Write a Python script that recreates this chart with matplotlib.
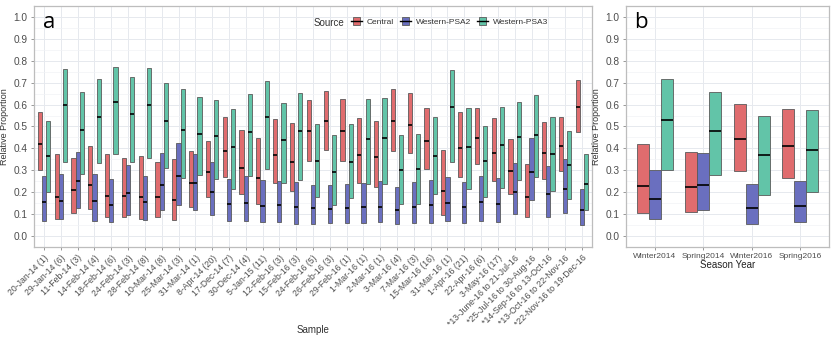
#import libraries
import numpy as np
import matplotlib
matplotlib.use("Agg")
import matplotlib.pyplot as plt
from matplotlib.patches import Rectangle
from matplotlib.lines import Line2D
from matplotlib.legend_handler import HandlerBase

plt.rcParams['font.family'] = ['Liberation Sans', 'DejaVu Sans']

#data for panel a
samples = ["20-Jan-14 (1)", "29-Jan-14 (6)", "11-Feb-14 (3)", "14-Feb-14 (4)", "18-Feb-14 (6)",
           "24-Feb-14 (3)", "28-Feb-14 (8)", "10-Mar-14 (8)", "25-Mar-14 (3)", "31-Mar-14 (1)",
           "8-Apr-14 (20)", "17-Dec-14 (7)", "30-Dec-14 (4)", "5-Jan-15 (11)", "12-Feb-16 (3)",
           "15-Feb-16 (3)", "24-Feb-16 (5)", "26-Feb-16 (3)", "29-Feb-16 (1)", "1-Mar-16 (1)",
           "2-Mar-16 (1)", "3-Mar-16 (4)", "7-Mar-16 (3)", "15-Mar-16 (16)", "31-Mar-16 (1)",
           "1-Apr-16 (21)", "22-Apr-16 (6)", "3-May-16 (17)", "*13-June-16 to 21-Jul-16",
           "*25-Jul-16 to 30-Aug-16", "*14-Sep-16 to 13-Oct-16", "*13-Oct-16 to 22-Nov-16",
           "*22-Nov-16 to 19-Dec-16"]

central_hi = [0.565, 0.373, 0.357, 0.41, 0.375, 0.358, 0.366, 0.337, 0.352, 0.386, 0.436, 0.544, 0.482,
              0.448, 0.533, 0.518, 0.62, 0.66, 0.624, 0.539, 0.527, 0.67, 0.652, 0.586, 0.391, 0.564,
              0.586, 0.539, 0.444, 0.329, 0.52, 0.542, 0.711]
central_mid = [0.42, 0.18, 0.21, 0.233, 0.183, 0.183, 0.178, 0.18, 0.164, 0.242, 0.294, 0.39, 0.31,
               0.265, 0.37, 0.338, 0.479, 0.524, 0.479, 0.368, 0.359, 0.527, 0.506, 0.432, 0.205, 0.402,
               0.448, 0.38, 0.298, 0.179, 0.377, 0.409, 0.589]
central_lo = [0.30, 0.08, 0.105, 0.125, 0.085, 0.085, 0.08, 0.085, 0.071, 0.132, 0.178, 0.27, 0.19,
              0.147, 0.244, 0.206, 0.341, 0.394, 0.344, 0.242, 0.224, 0.388, 0.377, 0.305, 0.094, 0.271,
              0.33, 0.25, 0.191, 0.086, 0.261, 0.295, 0.474]

psa2_hi = [0.275, 0.285, 0.385, 0.285, 0.262, 0.326, 0.275, 0.377, 0.424, 0.373, 0.336, 0.262, 0.274,
           0.256, 0.252, 0.245, 0.233, 0.232, 0.239, 0.244, 0.25, 0.226, 0.248, 0.255, 0.268, 0.248,
           0.276, 0.265, 0.333, 0.448, 0.321, 0.352, 0.215]
psa2_mid = [0.155, 0.16, 0.25, 0.158, 0.142, 0.195, 0.155, 0.232, 0.273, 0.24, 0.20, 0.147, 0.153,
            0.138, 0.14, 0.133, 0.129, 0.124, 0.127, 0.133, 0.133, 0.121, 0.133, 0.141, 0.152, 0.133,
            0.156, 0.147, 0.20, 0.294, 0.191, 0.214, 0.117]
psa2_lo = [0.07, 0.08, 0.128, 0.07, 0.063, 0.095, 0.075, 0.118, 0.142, 0.12, 0.095, 0.07, 0.07,
           0.064, 0.064, 0.056, 0.056, 0.059, 0.059, 0.061, 0.065, 0.053, 0.061, 0.061, 0.07, 0.061,
           0.07, 0.065, 0.10, 0.165, 0.089, 0.105, 0.052]

psa3_hi = [0.525, 0.762, 0.657, 0.718, 0.771, 0.727, 0.765, 0.70, 0.671, 0.635, 0.62, 0.578, 0.648,
           0.707, 0.608, 0.655, 0.512, 0.459, 0.51, 0.624, 0.632, 0.459, 0.464, 0.544, 0.756, 0.586,
           0.503, 0.589, 0.612, 0.644, 0.542, 0.479, 0.376]
psa3_mid = [0.365, 0.60, 0.485, 0.542, 0.613, 0.558, 0.60, 0.525, 0.483, 0.465, 0.455, 0.405, 0.477,
            0.542, 0.438, 0.479, 0.344, 0.291, 0.338, 0.442, 0.448, 0.302, 0.306, 0.367, 0.591, 0.405,
            0.344, 0.414, 0.45, 0.462, 0.374, 0.324, 0.239]
psa3_lo = [0.20, 0.34, 0.285, 0.332, 0.374, 0.34, 0.355, 0.31, 0.265, 0.28, 0.262, 0.213, 0.276,
           0.306, 0.242, 0.256, 0.176, 0.141, 0.173, 0.236, 0.238, 0.147, 0.147, 0.191, 0.338, 0.214,
           0.179, 0.22, 0.256, 0.271, 0.205, 0.168, 0.117]

#data for panel b
seasons = ["Winter2014", "Spring2014", "Winter2016", "Spring2016"]
season_central_hi = [0.42, 0.383, 0.602, 0.579]
season_central_mid = [0.229, 0.224, 0.442, 0.412]
season_central_lo = [0.106, 0.109, 0.295, 0.267]
season_psa2_hi = [0.30, 0.379, 0.239, 0.253]
season_psa2_mid = [0.17, 0.235, 0.127, 0.136]
season_psa2_lo = [0.077, 0.117, 0.056, 0.062]
season_psa3_hi = [0.715, 0.658, 0.55, 0.577]
season_psa3_mid = [0.53, 0.48, 0.368, 0.391]
season_psa3_lo = [0.303, 0.277, 0.186, 0.20]

sources = ["Central", "Western-PSA2", "Western-PSA3"]
colors = ["#E06C6E", "#6A6FBF", "#62C4A8"]
text_col = "#4D4D4D"
width = 0.25


def crossbars(ax, groups):
    #groups: list of (lo, mid, hi) per source
    for k, (lo, mid, hi) in enumerate(groups):
        x = np.arange(len(lo)) + (k - 1) * width
        lo = np.array(lo)
        hi = np.array(hi)
        ax.bar(x, hi - lo, bottom=lo, width=width, color=colors[k],
               edgecolor="#5a5a5a", linewidth=0.6, zorder=3)
        ax.hlines(mid, x - width / 2, x + width / 2, color="black", linewidth=1.2, zorder=4)


def style(ax, labels, rot):
    ax.set_ylim(-0.05, 1.05)
    ax.set_xlim(-0.6, len(labels) - 0.4)
    ax.set_yticks(np.arange(0, 1.01, 0.1))
    ax.set_yticks(np.arange(0.05, 1.0, 0.1), minor=True)
    ax.set_yticklabels(["%.1f" % v for v in np.arange(0, 1.01, 0.1)], fontsize=7.3, color=text_col)
    ax.set_xticks(np.arange(len(labels)))
    if rot:
        ax.set_xticklabels(labels, rotation=45, ha="right", rotation_mode="anchor",
                           fontsize=6.3, color=text_col)
    else:
        ax.set_xticklabels(labels, fontsize=6.0, color=text_col)
    ax.grid(which="major", color="#E6E9EE", linewidth=0.7, zorder=0)
    ax.grid(which="minor", axis="y", color="#F1F3F6", linewidth=0.5, zorder=0)
    ax.tick_params(which="major", length=2.5, width=0.6, color="#888888", pad=2)
    ax.tick_params(which="minor", length=0)
    for s in ax.spines.values():
        s.set_color("#BDBDBD")
        s.set_linewidth(0.9)
    ax.set_axisbelow(True)
    ax.set_ylabel("Relative Proportion", fontsize=6.5, color="#333333", labelpad=3)


class CrossbarHandler(HandlerBase):
    def create_artists(self, legend, orig_handle, xdescent, ydescent, width, height, fontsize, trans):
        x0, y0 = -xdescent, -ydescent
        rect = Rectangle((x0 + width * 0.15, y0 - height * 0.1), width * 0.7, height * 1.2,
                         facecolor=orig_handle.get_facecolor(), edgecolor="#5a5a5a",
                         linewidth=0.6, transform=trans)
        line = Line2D([x0, x0 + width], [y0 + height / 2] * 2, color="black",
                      linewidth=1.0, transform=trans)
        return [rect, line]


fig = plt.figure(figsize=(8.33, 3.42), dpi=100)
ax1 = fig.add_axes([0.0408, 0.2778, 0.6699, 0.7047])
ax2 = fig.add_axes([0.7515, 0.2778, 0.2437, 0.7047])

crossbars(ax1, [(central_lo, central_mid, central_hi),
                (psa2_lo, psa2_mid, psa2_hi),
                (psa3_lo, psa3_mid, psa3_hi)])
style(ax1, samples, True)
fig.text(0.376, 0.025, "Sample", fontsize=7, color="#333333", ha="center")

crossbars(ax2, [(season_central_lo, season_central_mid, season_central_hi),
                (season_psa2_lo, season_psa2_mid, season_psa2_hi),
                (season_psa3_lo, season_psa3_mid, season_psa3_hi)])
style(ax2, seasons, False)
ax2.set_xlabel("Season Year", fontsize=7, color="#222222", labelpad=0)

#panel letters
ax1.text(0.016, 0.975, "a", transform=ax1.transAxes, fontsize=16, va="top", family="Open Sans")
ax2.text(0.04, 0.975, "b", transform=ax2.transAxes, fontsize=16, va="top", family="Open Sans")

#legend
handles = [Rectangle((0, 0), 1, 1, facecolor=c) for c in colors]
ax1.legend(handles, sources, handler_map={Rectangle: CrossbarHandler()},
           loc="upper left", bbox_to_anchor=(0.555, 0.982), ncol=3, frameon=False,
           fontsize=6, handlelength=1.3, handleheight=0.9, handletextpad=0.6,
           columnspacing=0.7, labelcolor="#333333")
fig.text(0.376, 0.932, "Source", fontsize=7, color="#333333", ha="left", va="center")

plt.savefig("out.png", dpi=100)
